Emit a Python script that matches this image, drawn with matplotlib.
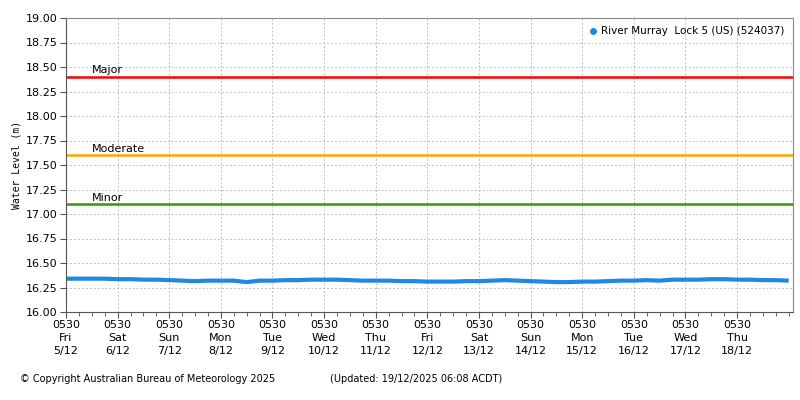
import matplotlib
matplotlib.use("Agg")
import matplotlib.pyplot as plt
import numpy as np

# water level readings every 6 hours from 0530 Fri 5/12
levels = [16.34, 16.34, 16.34, 16.34,
          16.335, 16.335, 16.33, 16.33,
          16.325, 16.32, 16.315, 16.32,
          16.32, 16.32, 16.305, 16.32,
          16.32, 16.325, 16.325, 16.33,
          16.33, 16.33, 16.325, 16.32,
          16.32, 16.32, 16.315, 16.315,
          16.31, 16.31, 16.31, 16.315,
          16.315, 16.32, 16.325, 16.32,
          16.315, 16.31, 16.305, 16.305,
          16.31, 16.31, 16.315, 16.32,
          16.32, 16.325, 16.32, 16.33,
          16.33, 16.33, 16.335, 16.335,
          16.33, 16.33, 16.325, 16.325,
          16.32]
hours = np.arange(len(levels)) * 6.0

day_names = ["Fri", "Sat", "Sun", "Mon", "Tue", "Wed", "Thu",
             "Fri", "Sat", "Sun", "Mon", "Tue", "Wed", "Thu"]
day_dates = ["5/12", "6/12", "7/12", "8/12", "9/12", "10/12", "11/12",
             "12/12", "13/12", "14/12", "15/12", "16/12", "17/12", "18/12"]

thresholds = {"Major": (18.40, "#ff0000"),
              "Moderate": (17.60, "#ffa500"),
              "Minor": (17.10, "#339900")}

fig = plt.figure(figsize=(8, 4), dpi=100)
ax = fig.add_axes([0.0825, 0.22, 0.90875, 0.735])

ax.plot(hours, levels, color="#1e88e5", lw=3, solid_capstyle="butt")
ax.plot([], [], ls="none", marker="o", ms=4, color="#1e88e5",
        label="River Murray  Lock 5 (US) (524037)")

for name, (val, col) in thresholds.items():
    ax.axhline(val, color=col, lw=1.8)
    ax.text(12.0, val + 0.015, name, fontsize=8, va="bottom", ha="left",
            color="black")

ax.set_xlim(0, 338)
ax.set_ylim(16, 19)
ax.set_yticks(np.arange(16, 19.01, 0.25))
ax.set_yticklabels(["%.2f" % v for v in np.arange(16, 19.01, 0.25)], fontsize=8)
ax.set_xticks(np.arange(len(day_names)) * 24)
ax.set_xticklabels(["0530\n%s\n%s" % (d, t) for d, t in zip(day_names, day_dates)],
                   fontsize=8, linespacing=1.35)
ax.set_xticks(np.arange(0, 338, 6), minor=True)

ax.tick_params(axis="both", which="major", length=4, color="#555555", pad=2)
ax.tick_params(axis="x", which="minor", length=3, color="#555555")
for s in ax.spines.values():
    s.set_color("#888888")
ax.spines["left"].set_color("#555555")
ax.spines["bottom"].set_color("#555555")

ax.grid(True, which="major", ls=(0, (2, 2)), color="#c0c0c0", lw=0.7)
ax.set_axisbelow(True)

ax.set_ylabel("Water Level (m)", fontsize=7, family="DejaVu Sans Mono", labelpad=3)

ax.legend(loc="upper right", frameon=False, fontsize=7.5, handletextpad=0.3,
          borderaxespad=0.4, handlelength=1)

fig.text(0.025, 0.045, "\u00a9 Copyright Australian Bureau of Meteorology 2025", fontsize=7)
fig.text(0.412, 0.045, "(Updated: 19/12/2025 06:08 ACDT)", fontsize=7)

fig.savefig("out.png", dpi=100)
